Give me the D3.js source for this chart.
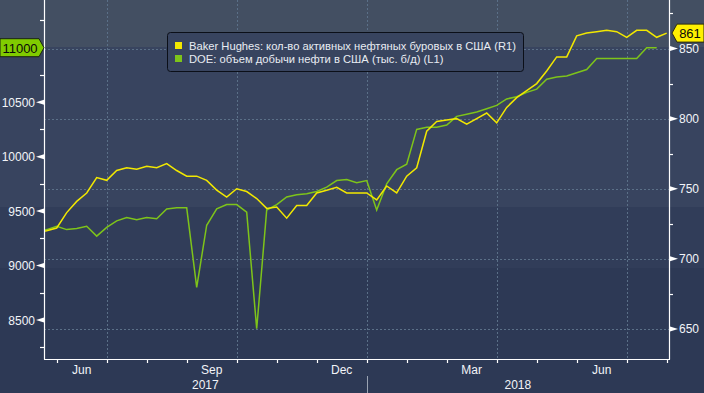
<!DOCTYPE html>
<html>
<head>
<meta charset="utf-8">
<script src="https://cdn.jsdelivr.net/npm/d3@7"></script>
<style>
  body { margin: 0; background: #2c3854; }
  svg { display: block; }
  text { font-family: "Liberation Sans", Arial, sans-serif; }
</style>
</head>
<body>
<div id="chart"></div>
<script>
// weekly data, Fridays from 12 May 2017
var dates = d3.utcFriday.range(new Date(Date.UTC(2017, 4, 12)), new Date(Date.UTC(2018, 6, 28)));

// Baker Hughes oil rigs (right axis)
var rigs = [719, 720, 722, 733, 741, 747, 758, 756, 763, 765,
  764, 766, 765, 768, 763, 759, 759, 756, 749, 744,
  750, 748, 743, 736, 737, 729, 738, 738, 747, 749,
  751, 747, 747, 747, 742, 752, 747, 759, 765, 791,
  798, 799, 800, 796, 800, 804, 797, 808, 815, 820,
  825, 834, 844, 844, 859, 861, 862, 863, 862, 858,
  863, 863, 858, 861];

// DOE crude output, thousand b/d (left axis)
var output = [9310, 9330, 9360, 9330, 9340, 9360, 9270, 9350, 9410, 9440,
  9420, 9440, 9430, 9520, 9530, 9530, 8800, 9370, 9520, 9560,
  9560, 9490, 8420, 9510, 9560, 9630, 9650, 9660, 9680, 9720,
  9780, 9790, 9760, 9780, 9510, 9750, 9880, 9930, 10250, 10270,
  10270, 10290, 10370, 10390, 10410, 10440, 10470, 10530, 10550, 10590,
  10620, 10710, 10730, 10740, 10770, 10800, 10900, 10900, 10900, 10900,
  10900, 11000, 11000];

var leftTicks = [8500, 9000, 9500, 10000, 10500];
var leftMinor = [8250, 8750, 9250, 9750, 10250, 10750, 11250];
var rightTicks = [650, 700, 750, 800, 850];
var rightMinor = [675, 725, 775, 825, 875];
var labelMonths = [2, 5, 8, 11];
var years = ['2017', '2018'];
var legendNames = ['Baker Hughes: кол-во активных нефтяных буровых в США (R1)',
  'DOE: объем добычи нефти в США (тыс. б/д) (L1)'];

var width = 704, height = 393;
var plotLeft = 44, plotRight = 669, plotTop = 0, plotBottom = 359;
var yellow = '#f2e800', green = '#7ec41a';
var week = 7 * 864e5;

var svg = d3.select('#chart').append('svg')
  .attr('width', width)
  .attr('height', height);

// background bands
[[0, 47, '#434f62'], [47, 207, '#38445f'], [207, 268, '#313d59'], [268, 393, '#2d3955']].forEach(function (b) {
  svg.append('rect').attr('x', 0).attr('y', b[0]).attr('width', width).attr('height', b[1] - b[0]).style('fill', b[2]);
});

// x: one week = 10px, 29 Dec 2017 sits at 366.7
var ref = Date.UTC(2017, 11, 29);
var x = d3.scaleUtc()
  .domain([new Date(ref - (366.7 - plotLeft) / 10 * week), new Date(ref + (plotRight - 366.7) / 10 * week)])
  .range([plotLeft, plotRight]);
var yL = d3.scaleLinear().domain([8142, 11438]).range([plotBottom, plotTop]);
var yR = d3.scaleLinear().domain([628.6, 884.6]).range([plotBottom, plotTop]);

// month-end data points carry the x ticks
var monthEnds = dates.filter(function (d, i) {
  return i == dates.length - 1 || dates[i + 1].getUTCMonth() != d.getUTCMonth();
});
var quarterEnds = monthEnds.filter(function (d) { return labelMonths.indexOf(d.getUTCMonth()) >= 0; });

// grid
var grid = svg.append('g').style('stroke', '#5b7088').style('stroke-width', 1).style('stroke-dasharray', '2,2');
rightTicks.forEach(function (v) {
  grid.append('line').attr('x1', plotLeft).attr('x2', plotRight).attr('y1', Math.round(yR(v)) + 0.5).attr('y2', Math.round(yR(v)) + 0.5);
});
quarterEnds.forEach(function (d) {
  grid.append('line').attr('x1', Math.round(x(d)) + 0.5).attr('x2', Math.round(x(d)) + 0.5).attr('y1', plotTop).attr('y2', plotBottom);
});

// legend
var legend = svg.append('g');
legend.append('rect')
  .attr('x', 167.5).attr('y', 32.5).attr('width', 356).attr('height', 39).attr('rx', 3)
  .style('fill', '#38445f').style('stroke', '#0b0f18').style('stroke-width', 1);
[yellow, green].forEach(function (c, i) {
  legend.append('rect').attr('x', 175).attr('y', 42 + i * 13).attr('width', 7).attr('height', 7).style('fill', c);
  legend.append('text').attr('x', 189).attr('y', 49.5 + i * 13)
    .style('font-size', '11.2px').style('fill', '#e8ecf2')
    .text(legendNames[i]);
});

// lines
svg.append('clipPath').attr('id', 'plot').append('rect')
  .attr('x', plotLeft).attr('y', plotTop).attr('width', plotRight - plotLeft).attr('height', plotBottom - plotTop);
var plot = svg.append('g').attr('clip-path', 'url(#plot)');
plot.append('path')
  .datum(output)
  .attr('d', d3.line().x(function (d, i) { return x(dates[i]); }).y(function (d) { return yL(d); }))
  .style('fill', 'none').style('stroke', green).style('stroke-width', 1.5);
plot.append('path')
  .datum(rigs)
  .attr('d', d3.line().x(function (d, i) { return x(dates[i]); }).y(function (d) { return yR(d); }))
  .style('fill', 'none').style('stroke', yellow).style('stroke-width', 1.5);

// axes frame
var axis = svg.append('g').style('stroke', '#ffffff').style('stroke-width', 1.2);
axis.append('line').attr('x1', plotLeft + 0.5).attr('x2', plotLeft + 0.5).attr('y1', plotTop).attr('y2', plotBottom + 0.5);
axis.append('line').attr('x1', plotRight + 0.5).attr('x2', plotRight + 0.5).attr('y1', plotTop).attr('y2', plotBottom + 0.5);
axis.append('line').attr('x1', plotLeft).attr('x2', plotRight + 1).attr('y1', plotBottom + 0.5).attr('y2', plotBottom + 0.5);

leftMinor.forEach(function (v) {
  axis.append('line').attr('x1', plotLeft - 4).attr('x2', plotLeft).attr('y1', Math.round(yL(v)) + 0.5).attr('y2', Math.round(yL(v)) + 0.5);
});
rightMinor.forEach(function (v) {
  axis.append('line').attr('x1', plotRight).attr('x2', plotRight + 4).attr('y1', Math.round(yR(v)) + 0.5).attr('y2', Math.round(yR(v)) + 0.5);
});
monthEnds.forEach(function (d) {
  axis.append('line').attr('x1', Math.round(x(d)) + 0.5).attr('x2', Math.round(x(d)) + 0.5).attr('y1', plotBottom).attr('y2', plotBottom + 4);
});

// y tick markers and labels
leftTicks.forEach(function (v) {
  var y = yL(v);
  svg.append('path').attr('d', 'M' + plotLeft + ',' + (y - 2.5) + 'L' + (plotLeft - 8) + ',' + y + 'L' + plotLeft + ',' + (y + 2.5) + 'Z').style('fill', '#ffffff');
  svg.append('text').attr('x', 35).attr('y', y + 4.5).attr('text-anchor', 'end')
    .style('font-size', '12px').style('fill', '#f2f4f8').text(v);
});
rightTicks.forEach(function (v) {
  var y = yR(v);
  svg.append('path').attr('d', 'M' + (plotRight + 1) + ',' + (y - 2.5) + 'L' + (plotRight + 9) + ',' + y + 'L' + (plotRight + 1) + ',' + (y + 2.5) + 'Z').style('fill', '#ffffff');
  svg.append('text').attr('x', 679).attr('y', y + 4.5)
    .style('font-size', '12px').style('fill', '#f2f4f8').text(v);
});

// x labels
var fmt = d3.utcFormat('%b');
monthEnds.forEach(function (d, i) {
  if (i == 0 || labelMonths.indexOf(d.getUTCMonth()) < 0) return;
  svg.append('text').attr('x', (x(monthEnds[i - 1]) + x(d)) / 2).attr('y', 374).attr('text-anchor', 'middle')
    .style('font-size', '12px').style('fill', '#f2f4f8').text(fmt(d));
});
var yearEnd = monthEnds.filter(function (d) { return d.getUTCMonth() == 11; })[0];
svg.append('line').attr('x1', Math.round(x(yearEnd)) + 0.5).attr('x2', Math.round(x(yearEnd)) + 0.5)
  .attr('y1', 376).attr('y2', height).style('stroke', '#9aa3b2').style('stroke-width', 1);
[[plotLeft, x(yearEnd)], [x(yearEnd), plotRight]].forEach(function (r, i) {
  svg.append('text').attr('x', (r[0] + r[1]) / 2).attr('y', 389).attr('text-anchor', 'middle')
    .style('font-size', '12px').style('fill', '#f2f4f8').text(years[i]);
});

// last value tags
var lastOut = output[output.length - 1];
var gy = yL(lastOut);
svg.append('path')
  .attr('d', 'M0,' + (gy - 9) + 'L39,' + (gy - 9) + 'L44,' + gy + 'L39,' + (gy + 9) + 'L0,' + (gy + 9) + 'Z')
  .style('fill', '#80cc00').style('stroke', '#1a2410').style('stroke-width', 1);
svg.append('text').attr('x', 20).attr('y', gy + 5).attr('text-anchor', 'middle')
  .style('font-size', '13px').style('fill', '#0a0a0a').text(lastOut);

var lastRig = rigs[rigs.length - 1];
var ry = yR(lastRig);
svg.append('path')
  .attr('d', 'M672,' + ry + 'L677,' + (ry - 9) + 'L704,' + (ry - 9) + 'L704,' + (ry + 9) + 'L677,' + (ry + 9) + 'Z')
  .style('fill', '#fff000').style('stroke', '#2a2a10').style('stroke-width', 1);
svg.append('text').attr('x', 690).attr('y', ry + 5).attr('text-anchor', 'middle')
  .style('font-size', '13px').style('fill', '#0a0a0a').text(lastRig);
</script>
</body>
</html>
